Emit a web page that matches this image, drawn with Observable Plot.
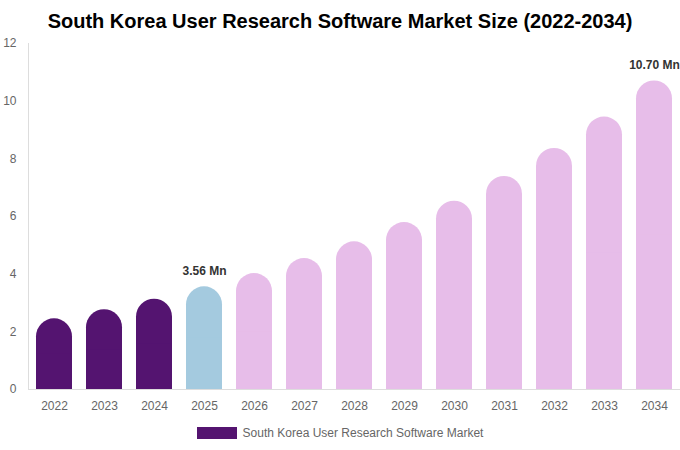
<!DOCTYPE html>
<html>
<head>
<meta charset="utf-8">
<script src="https://cdn.jsdelivr.net/npm/d3@7"></script>
<script src="https://cdn.jsdelivr.net/npm/@observablehq/plot@0.6"></script>
<style>
  body { margin: 0; background: #fff; font-family: "Liberation Sans", Arial, sans-serif; }
  #title { height: 30px; line-height: 42px; overflow: visible; text-align: center; font-size: 20px; font-weight: bold; color: #000; position: relative; z-index: 1; }
  #chart svg { overflow: visible; }
  #legend { display: flex; justify-content: center; align-items: center; height: 26px; font-size: 12px; color: #666; }
  #legend .sw { width: 40px; height: 12px; background: #541470; margin-right: 6px; }
</style>
</head>
<body>
<div id="title">South Korea User Research Software Market Size (2022-2034)</div>
<div id="chart"></div>
<div id="legend"><span class="sw"></span><span>South Korea User Research Software Market</span></div>
<script>
const years = ["2022","2023","2024","2025","2026","2027","2028","2029","2030","2031","2032","2033","2034"];
const values = [2.45, 2.77, 3.13, 3.56, 4.02, 4.54, 5.12, 5.79, 6.53, 7.39, 8.36, 9.45, 10.70];
const labeledYears = ["2025", "2034"];
const yTicks = [0, 2, 4, 6, 8, 10, 12];
const seriesName = "South Korea User Research Software Market";
const baseYear = "2025";

const data = years.map((year, i) => ({year, value: values[i]}));
const colorOf = d => d.year < baseYear ? "#541470" : d.year === baseYear ? "#a4cadf" : "#e7bde9";

const chart = Plot.plot({
  width: 680,
  height: 390,
  marginTop: 13,
  marginBottom: 31,
  marginLeft: 28,
  marginRight: 0,
  style: {fontFamily: "'Liberation Sans', Arial, sans-serif", fontSize: "12px", color: "#666", overflow: "visible"},
  x: {domain: years, paddingInner: 0.28, paddingOuter: 0.13, label: null},
  y: {domain: [0, 12], label: null},
  marks: [
    Plot.frame({anchor: "left", stroke: "#ddd"}),
    Plot.axisY({ticks: yTicks, tickSize: 0, tickPadding: 12, fill: "#666", fontSize: 12}),
    Plot.axisX({tickSize: 0, tickPadding: 12, fill: "#666", fontSize: 12}),
    Plot.barY(data, {x: "year", y: "value", fill: colorOf, rx: 18}),
    Plot.barY(data, {x: "year", y1: 0, y2: d => d.value / 2, fill: colorOf}),
    Plot.ruleY([0], {stroke: "#ddd"}),
    Plot.text(data.filter(d => labeledYears.includes(d.year)), {
      x: "year", y: "value", text: d => d.value.toFixed(2) + " Mn",
      dy: -16, fill: "#333", fontWeight: "bold", fontSize: 12
    })
  ]
});
document.getElementById("chart").appendChild(chart);
</script>
</body>
</html>
